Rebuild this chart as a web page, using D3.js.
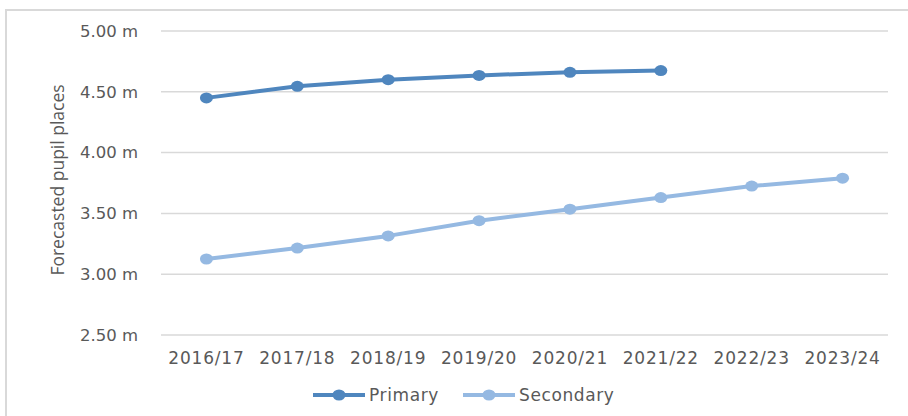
<!DOCTYPE html>
<html>
<head>
<meta charset="utf-8">
<script src="https://cdn.jsdelivr.net/npm/d3@7"></script>
<style>
  body { margin: 0; background: #fff; }
  text { fill: #595959; }
</style>
</head>
<body>
<div id="chart"></div>
<script>
const years = ["2016/17", "2017/18", "2018/19", "2019/20", "2020/21", "2021/22", "2022/23", "2023/24"]
const primary = [4.45, 4.545, 4.60, 4.635, 4.66, 4.675]
const secondary = [3.125, 3.215, 3.315, 3.44, 3.535, 3.63, 3.725, 3.79]
const yTicks = [2.5, 3.0, 3.5, 4.0, 4.5, 5.0]
const seriesNames = ["Primary", "Secondary"]
const colors = ["#4f86be", "#95b9e2"]

const W = 908, H = 416
const margin = {top: 31, left: 161, right: 20, bottom: 81}

const svg = d3.select("#chart").append("svg")
    .attr("width", W)
    .attr("height", H)

// outer chart border (top and left visible)
svg.append("path")
    .attr("d", `M6,${H} L6,10 L${W},10`)
    .attr("fill", "none")
    .attr("stroke", "#d9d9d9")
    .attr("stroke-width", 2)

const x = d3.scaleBand().domain(years).range([margin.left, 888])
const y = d3.scaleLinear().domain([2.5, 5.0]).range([335, 31])

// gridlines
svg.append("g")
  .selectAll("line")
  .data(yTicks)
  .enter()
  .append("line")
    .attr("x1", margin.left)
    .attr("x2", 888)
    .attr("y1", d => y(d))
    .attr("y2", d => y(d))
    .attr("stroke", "#d9d9d9")
    .attr("stroke-width", 1.5)

// y tick labels
svg.append("g")
  .selectAll("text")
  .data(yTicks)
  .enter()
  .append("text")
    .attr("x", 138)
    .attr("y", d => y(d))
    .attr("dy", "0.35em")
    .attr("text-anchor", "end")
    .style("font-family", "DejaVu Sans")
    .style("font-size", "16.5px")
    .text(d => d3.format(".2f")(d) + " m")

// x tick labels
svg.append("g")
  .selectAll("text")
  .data(years)
  .enter()
  .append("text")
    .attr("x", d => x(d) + x.bandwidth() / 2)
    .attr("y", 364)
    .attr("text-anchor", "middle")
    .style("font-family", "DejaVu Sans")
    .style("font-size", "17px")
    .style("letter-spacing", "0.8px")
    .text(d => d)

// y axis title
svg.append("text")
    .attr("transform", "translate(64,180) rotate(-90)")
    .attr("text-anchor", "middle")
    .style("font-family", "Open Sans")
    .style("font-size", "17.5px")
    .text("Forecasted pupil places")

const line = d3.line()
    .x((d, i) => x(years[i]) + x.bandwidth() / 2)
    .y(d => y(d))

const series = [primary, secondary]

series.forEach(function(vals, k) {
    svg.append("path")
        .datum(vals)
        .attr("d", line)
        .attr("fill", "none")
        .attr("stroke", colors[k])
        .attr("stroke-width", 4)
        .attr("stroke-linejoin", "round")

    svg.append("g")
      .selectAll("ellipse")
      .data(vals)
      .enter()
      .append("ellipse")
        .attr("cx", (d, i) => x(years[i]) + x.bandwidth() / 2)
        .attr("cy", d => y(d))
        .attr("rx", 6.5)
        .attr("ry", 5.5)
        .attr("fill", colors[k])
})

// legend
const legendX = [313, 463]
seriesNames.forEach(function(name, k) {
    const g = svg.append("g").attr("transform", `translate(${legendX[k]},395)`)
    g.append("line")
        .attr("x1", 0).attr("x2", 52)
        .attr("stroke", colors[k])
        .attr("stroke-width", 4)
    g.append("ellipse")
        .attr("cx", 26).attr("rx", 6.5).attr("ry", 5.5)
        .attr("fill", colors[k])
    g.append("text")
        .attr("x", 56)
        .attr("dy", "0.35em")
        .style("font-family", "DejaVu Sans")
        .style("font-size", "17px")
        .style("letter-spacing", "0.6px")
        .text(name)
})
</script>
</body>
</html>
